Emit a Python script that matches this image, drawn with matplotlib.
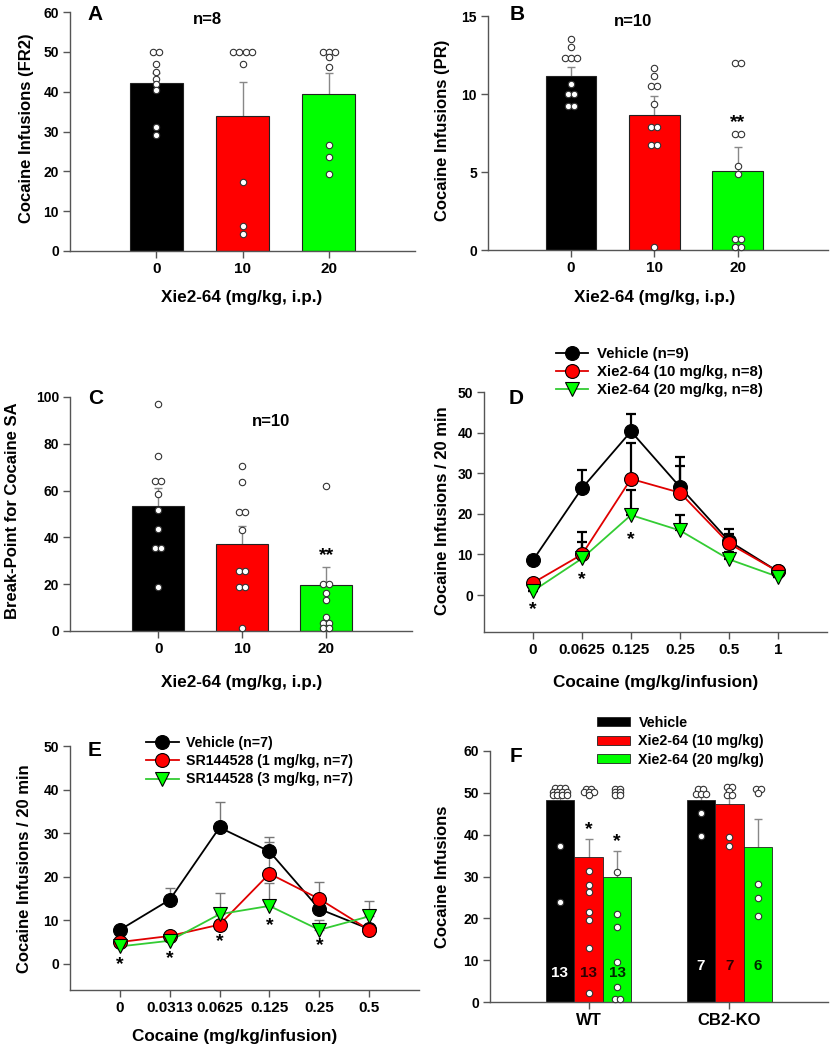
import numpy as np
import matplotlib
matplotlib.use('Agg')
import matplotlib.pyplot as plt
from matplotlib.patches import Patch
from matplotlib.lines import Line2D

plt.rcParams['font.family'] = ['Liberation Sans', 'DejaVu Sans']
plt.rcParams['font.weight'] = 'bold'
plt.rcParams['axes.labelweight'] = 'bold'

# ---------------- data ----------------
dose_labels = ['0', '10', '20']

a_means = [42.1, 33.9, 39.3]
a_top = [44.8, 42.4, 44.6]
a_dots = [[50, 50, 46.9, 45.0, 43.1, 41.9, 40.4, 31.1, 29.1],
          [50, 50, 50, 50, 46.9, 17.2, 6.3, 4.3],
          [50, 50, 50, 48.7, 46.2, 26.5, 23.5, 19.4]]

b_means = [11.15, 8.65, 5.09]
b_top = [11.75, 9.9, 6.62]
b_dots = [[13.5, 13.0, 12.33, 12.33, 12.33, 10.64, 9.98, 9.98, 9.25, 9.25],
          [11.69, 11.15, 10.5, 10.5, 9.36, 7.9, 7.9, 6.73, 6.73, 0.2],
          [11.97, 11.97, 7.44, 7.44, 5.41, 4.9, 0.73, 0.73, 0.21, 0.21]]

c_means = [53.5, 37.0, 19.5]
c_top = [61.2, 44.8, 27.5]
c_dots = [[96.9, 74.7, 64.3, 64.3, 58.6, 51.9, 43.5, 35.6, 35.6, 19.0],
          [70.7, 63.7, 50.9, 50.9, 43.1, 25.6, 25.6, 19.0, 19.0, 1.4],
          [62.0, 20.0, 20.0, 16.4, 13.2, 6.1, 3.3, 3.3, 1.1, 1.1]]

d_doses = ['0', '0.0625', '0.125', '0.25', '0.5', '1']
d_names = ['Vehicle (n=9)', 'Xie2-64 (10 mg/kg, n=8)', 'Xie2-64 (20 mg/kg, n=8)']
d_veh = [8.6, 26.3, 40.3, 26.6, 13.3, 5.8]
d_veh_top = [8.6, 30.9, 44.7, 34.1, 16.3, 5.8]
d_x10 = [3.0, 10.0, 28.6, 25.2, 12.7, 5.8]
d_x10_top = [3.0, 15.5, 37.5, 31.7, 15.0, 5.8]
d_x20 = [1.0, 9.0, 19.7, 15.9, 8.8, 4.5]
d_x20_top = [1.0, 13.0, 25.9, 19.8, 10.5, 4.5]
d_star_x = [0, 1, 2]
d_star_y = [-3.7, 3.7, 13.6]

e_doses = ['0', '0.0313', '0.0625', '0.125', '0.25', '0.5']
e_names = ['Vehicle (n=7)', 'SR144528 (1 mg/kg, n=7)', 'SR144528 (3 mg/kg, n=7)']
e_veh = [7.8, 14.7, 31.3, 25.8, 12.6, 8.0]
e_veh_top = [7.8, 17.4, 37.1, 29.2, 14.0, 8.0]
e_sr1 = [5.0, 6.4, 9.0, 20.7, 14.9, 7.8]
e_sr1_top = [5.0, 6.4, 9.0, 28.0, 18.9, 7.8]
e_sr3 = [4.0, 5.3, 11.4, 13.3, 7.8, 10.9]
e_sr3_top = [4.0, 5.3, 16.2, 18.5, 10.1, 14.5]
e_star_x = [0, 1, 2, 3, 4]
e_star_y = [-0.2, 1.3, 5.1, 8.8, 4.2]

f_groups = ['WT', 'CB2-KO']
f_names = ['Vehicle', 'Xie2-64 (10 mg/kg)', 'Xie2-64 (20 mg/kg)']
f_means = [[48.3, 34.7, 29.8], [48.3, 47.4, 37.1]]
f_top = [[49.5, 38.9, 36.1], [49.5, 49.1, 43.7]]
f_n = [['13', '13', '13'], ['7', '7', '6']]
f_dots = [[[51.2, 51.2, 51.2, 50.3, 50.3, 50.3, 50.3, 49.5, 49.5, 49.5, 49.5, 37.2, 23.9],
           [51.0, 51.0, 50.2, 50.2, 50.2, 49.4, 31.3, 28.0, 26.2, 21.4, 19.5, 12.8, 2.1],
           [51.0, 51.0, 50.2, 50.2, 49.4, 49.4, 31.0, 21.1, 18.0, 9.6, 3.5, 0.7, 0.7]],
          [[50.8, 50.8, 49.8, 49.8, 49.8, 45.2, 39.6],
           [51.3, 51.3, 50.4, 49.6, 49.6, 39.4, 37.3],
           [50.8, 50.8, 49.9, 28.2, 24.8, 20.6]]]
f_star_y = [41.1, 38.3]

# ---------------- style ----------------
W, H = 834, 1050
BLACK, RED, GREEN = '#000000', '#ff0000', '#00ff00'
LGREEN = '#33cc33'
AX = '#555555'
bar_colors = [BLACK, RED, GREEN]

fig = plt.figure(figsize=(W / 100, H / 100), dpi=100)


def add_ax(left, top, right, bottom):
    ax = fig.add_axes([left / W, 1 - bottom / H, (right - left) / W, (bottom - top) / H])
    for s in ['top', 'right']:
        ax.spines[s].set_visible(False)
    for s in ['left', 'bottom']:
        ax.spines[s].set_color(AX)
        ax.spines[s].set_linewidth(1.0)
    ax.tick_params(direction='out', length=5, width=1, color=AX, labelsize=10, pad=3)
    for lab in ax.get_xticklabels() + ax.get_yticklabels():
        lab.set_fontweight('bold')
    return ax


def fx(x):
    return x / W


def fy(y):
    return 1 - y / H


def ylabel_at(ax, text, x, y, size=12):
    ax.set_ylabel(text, fontsize=size, fontweight='bold')
    ax.yaxis.set_label_coords(fx(x), fy(y), transform=fig.transFigure)
    ax.yaxis.label.set_va('center')
    ax.yaxis.label.set_ha('center')


def xlabel_at(ax, text, x, y, size=12.3):
    ax.set_xlabel(text, fontsize=size, fontweight='bold')
    ax.xaxis.set_label_coords(fx(x), fy(y), transform=fig.transFigure)
    ax.xaxis.label.set_va('center')
    ax.xaxis.label.set_ha('center')


def ftext(x, y, s, size=12, **kw):
    fig.text(fx(x), fy(y), s, fontsize=size, fontweight='bold', ha='center', va='center', **kw)


def spread(values, step):
    vals = np.asarray(values, dtype=float)
    offs = np.zeros(len(vals))
    keys = np.round(vals, 2)
    for k in np.unique(keys):
        idx = np.where(keys == k)[0]
        n = len(idx)
        offs[idx] = (np.arange(n) - (n - 1) / 2) * step
    return offs


def dots(ax, xc, values, step, ms=4.6):
    offs = spread(values, step)
    ax.plot(xc + offs, values, 'o', ms=ms, mfc='white', mec='#333333', mew=0.8,
            zorder=5, clip_on=False)


def bar_panel(ax, means, tops, dots_list, width, step):
    x = np.arange(len(means))
    ax.bar(x, means, width=width, color=bar_colors, edgecolor='#222222', linewidth=0.8, zorder=2)
    err = np.asarray(tops) - np.asarray(means)
    ax.errorbar(x, means, yerr=err, fmt='none', ecolor='#888888', elinewidth=1.0,
                capsize=3, capthick=1.0, zorder=1)
    for i, v in enumerate(dots_list):
        dots(ax, x[i], v, step)
    ax.set_xticks(x)
    ax.set_xticklabels(dose_labels, fontsize=11, fontweight='bold')


# ---------------- Panel A ----------------
axA = add_ax(70, 12, 415, 251)
axA.set_xlim(-1, 3)
axA.set_ylim(0, 60)
axA.set_yticks(np.arange(0, 61, 10))
bar_panel(axA, a_means, a_top, a_dots, 0.62, 6 / 86)
ylabel_at(axA, 'Cocaine Infusions (FR2)', 27, 128)
xlabel_at(axA, 'Xie2-64 (mg/kg, i.p.)', 242, 298)
ftext(95, 15, 'A', 15)
ftext(207, 20, 'n=8', 12)

# ---------------- Panel B ----------------
axB = add_ax(488, 16, 828, 250)
axB.set_xlim(-0.994, 3.08)
axB.set_ylim(0, 15)
axB.set_yticks([0, 5, 10, 15])
bar_panel(axB, b_means, b_top, b_dots, 0.61, 6 / 83.5)
ylabel_at(axB, 'Cocaine Infusions (PR)', 442, 130)
xlabel_at(axB, 'Xie2-64 (mg/kg, i.p.)', 655, 298)
axB.text(2, 8.2, '**', fontsize=14, fontweight='bold', ha='center', va='center', zorder=6)
ftext(517, 15, 'B', 15)
ftext(633, 22, 'n=10', 12)

# ---------------- Panel C ----------------
axC = add_ax(70, 397, 412, 631)
axC.set_xlim(-1.05, 3.02)
axC.set_ylim(0, 100)
axC.set_yticks(np.arange(0, 101, 20))
bar_panel(axC, c_means, c_top, c_dots, 0.62, 6 / 84)
ylabel_at(axC, 'Break-Point for Cocaine SA', 13, 511)
xlabel_at(axC, 'Xie2-64 (mg/kg, i.p.)', 242, 683)
axC.text(2, 32.3, '**', fontsize=14, fontweight='bold', ha='center', va='center', zorder=6)
ftext(96, 398, 'C', 15)
ftext(271, 421, 'n=10', 12)


# ---------------- line panels ----------------
def line_panel(ax, series_list, ecolor, elw):
    handles = []
    for vals, tops, mfc, lc, mk, lab in series_list:
        x = np.arange(len(vals))
        err = np.asarray(tops) - np.asarray(vals)
        ms = 10 if mk == 'o' else 10.5
        ax.errorbar(x, vals, yerr=[np.zeros(len(vals)), err], fmt='none', ecolor=ecolor,
                    elinewidth=elw, capsize=3.5, capthick=elw, zorder=2)
        ax.plot(x, vals, '-', color=lc, lw=1.3, zorder=3)
        ax.plot(x, vals, mk, ms=ms, mfc=mfc, mec='black', mew=0.8, zorder=4, clip_on=False)
        handles.append(Line2D([], [], color=lc, lw=1.3, marker=mk, ms=ms,
                              mfc=mfc, mec='black', mew=0.8, label=lab))
    return handles


# Panel D
axD = add_ax(484, 392, 827, 632)
axD.set_xlim(-1, 6)
axD.set_ylim(-9.1, 50)
axD.set_yticks(np.arange(0, 51, 10))
hD = line_panel(axD, [(d_veh, d_veh_top, BLACK, BLACK, 'o', d_names[0]),
                      (d_x10, d_x10_top, RED, '#e00000', 'o', d_names[1]),
                      (d_x20, d_x20_top, GREEN, LGREEN, 'v', d_names[2])], 'black', 1.6)
axD.set_xticks(np.arange(len(d_doses)))
axD.set_xticklabels(d_doses, fontsize=11, fontweight='bold')
for xs, ys in zip(d_star_x, d_star_y):
    axD.text(xs, ys, '*', fontsize=14, fontweight='bold', ha='center', va='center')
ylabel_at(axD, 'Cocaine Infusions / 20 min', 442, 511)
xlabel_at(axD, 'Cocaine (mg/kg/infusion)', 656, 683)
ftext(516, 398, 'D', 15)
axD.legend(handles=hD, loc='upper left', bbox_to_anchor=(fx(556), fy(347)),
           bbox_transform=fig.transFigure, frameon=False, borderpad=0, borderaxespad=0,
           handlelength=2.15, handletextpad=0.6, labelspacing=0.26,
           prop={'size': 10.8, 'weight': 'bold'})

# Panel E
axE = add_ax(70, 746, 419, 990)
axE.set_xlim(-1, 6)
axE.set_ylim(-6, 50)
axE.set_yticks(np.arange(0, 51, 10))
hE = line_panel(axE, [(e_veh, e_veh_top, BLACK, BLACK, 'o', e_names[0]),
                      (e_sr1, e_sr1_top, RED, '#e00000', 'o', e_names[1]),
                      (e_sr3, e_sr3_top, GREEN, LGREEN, 'v', e_names[2])], '#777777', 1.0)
axE.set_xticks(np.arange(len(e_doses)))
axE.set_xticklabels(e_doses, fontsize=11, fontweight='bold')
for xs, ys in zip(e_star_x, e_star_y):
    axE.text(xs, ys, '*', fontsize=14, fontweight='bold', ha='center', va='center')
ylabel_at(axE, 'Cocaine Infusions / 20 min', 25, 869)
xlabel_at(axE, 'Cocaine (mg/kg/infusion)', 235, 1036)
ftext(95, 750, 'E', 15)
axE.legend(handles=hE, loc='upper left', bbox_to_anchor=(fx(146), fy(736)),
           bbox_transform=fig.transFigure, frameon=False, borderpad=0, borderaxespad=0,
           handlelength=2.3, handletextpad=0.55, labelspacing=0.3,
           prop={'size': 10.2, 'weight': 'bold'})

# ---------------- Panel F ----------------
axF = add_ax(490, 751, 828, 1002)
axF.set_xlim(-0.70, 1.70)
axF.set_ylim(0, 60)
axF.set_yticks(np.arange(0, 61, 10))
bw = 0.203
n_colors = ['white', '#300000', '#002800']
for g in range(len(f_groups)):
    for j in range(3):
        xc = g + (j - 1) * bw
        axF.bar(xc, f_means[g][j], width=bw, color=bar_colors[j], edgecolor='#222222',
                linewidth=0.6, zorder=2)
        e = f_top[g][j] - f_means[g][j]
        axF.errorbar(xc, f_means[g][j], yerr=e, fmt='none', ecolor='#888888', elinewidth=1.0,
                     capsize=3, capthick=1.0, zorder=1)
        dots(axF, xc, f_dots[g][j], 5 / 141, ms=4.6)
        ny = 6.9 if g == 0 else 8.6
        axF.text(xc, ny, f_n[g][j], color=n_colors[j], fontsize=11, fontweight='bold',
                 ha='center', va='center', zorder=6)
for j, sy in zip([1, 2], f_star_y):
    axF.text((j - 1) * bw, sy, '*', fontsize=14, fontweight='bold', ha='center', va='center',
             zorder=6)
axF.set_xticks(np.arange(len(f_groups)))
axF.set_xticklabels(f_groups, fontsize=12, fontweight='bold')
ylabel_at(axF, 'Cocaine Infusions', 442, 877)
ftext(516, 756, 'F', 15)
hF = [Patch(facecolor=c, edgecolor='#222222', linewidth=0.6, label=n)
      for c, n in zip(bar_colors, f_names)]
axF.legend(handles=hF, loc='upper left', bbox_to_anchor=(fx(597), fy(716)),
           bbox_transform=fig.transFigure, frameon=False, borderpad=0, borderaxespad=0,
           handlelength=2.3, handleheight=0.6, handletextpad=0.6, labelspacing=0.3,
           prop={'size': 10.3, 'weight': 'bold'})

fig.savefig('out.png', dpi=100)
